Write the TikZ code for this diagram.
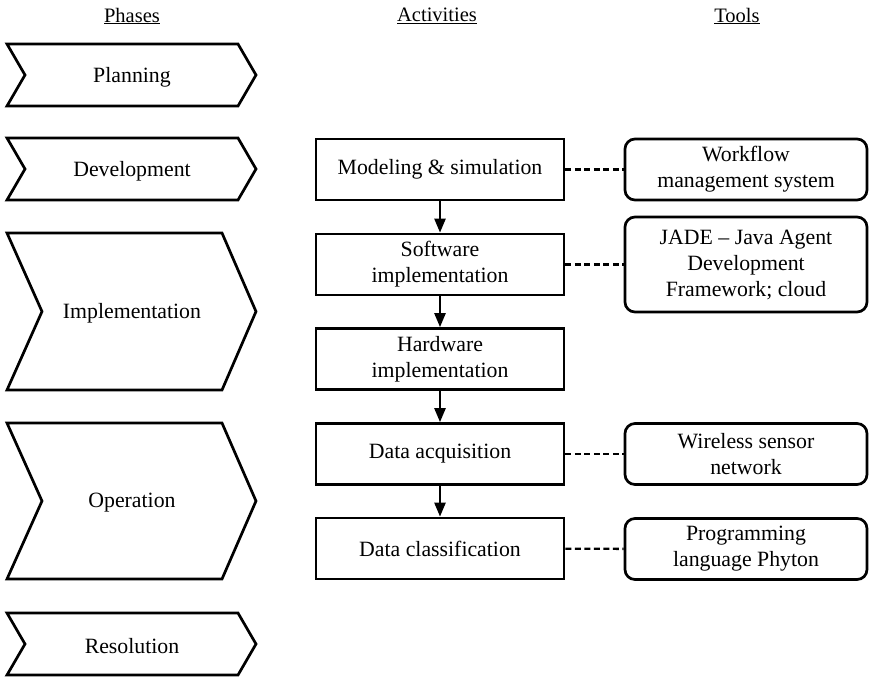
\documentclass[tikz,border=0pt]{standalone}
\usepackage{fontspec}
\setmainfont{Liberation Serif}
\usetikzlibrary{arrows.meta}
\begin{document}
\begin{tikzpicture}[x=1pt,y=-1pt,
  txt/.style={font=\fontsize{21.8}{26}\selectfont, text=black, align=center, inner sep=0pt},
  hdr/.style={font=\fontsize{20.5}{24}\selectfont, text=black, inner sep=0pt},
  chev/.style={draw=black, line width=2.7pt, line join=miter},
  actbox/.style={txt, draw=black, line width=2.7pt, minimum width=248pt, minimum height=61pt},
  toolbox/.style={txt, draw=black, line width=2.7pt, rounded corners=10pt, minimum width=242pt, minimum height=61pt},
  flow/.style={draw=black, line width=2.4pt, -{Triangle[length=14pt,width=11pt]}},
  link/.style={draw=black, line width=2.4pt, dash pattern=on 6pt off 3.5pt}
]
\useasboundingbox (0,0) rectangle (869,678);
\fill[white] (0,0) rectangle (869,678);

% headers
\node[hdr] (hp) at (132,16) {\underline{Phases}};
\node[hdr] (ha) at (437,16) {\underline{Activities}};
\node[hdr] (ht) at (737,16) {\underline{Tools}};

% phase chevrons
\draw[chev] (7,44) -- (238,44) -- (256,75) -- (238,106) -- (7,106) -- (25,75) -- cycle;
\node[txt] (planning) at (132,77) {Planning};
\draw[chev] (7,138) -- (238,138) -- (256,169) -- (238,200) -- (7,200) -- (25,169) -- cycle;
\node[txt] (development) at (132,171) {Development};
\draw[chev] (7,233) -- (222,233) -- (256,311.5) -- (222,390) -- (7,390) -- (42,311.5) -- cycle;
\node[txt] (implementation) at (132,313) {Implementation};
\draw[chev] (7,423) -- (222,423) -- (256,501) -- (222,579) -- (7,579) -- (42,501) -- cycle;
\node[txt] (operation) at (132,503) {Operation};
\draw[chev] (7,613) -- (238,613) -- (256,644) -- (238,675) -- (7,675) -- (25,644) -- cycle;
\node[txt] (resolution) at (132,646) {Resolution};

% activities
\node[actbox] (model) at (440,169.5) {Modeling \& simulation};
\node[actbox] (soft) at (440,264.5) {Software\\implementation};
\node[actbox] (hard) at (440,359) {Hardware\\implementation};
\node[actbox] (acq) at (440,454) {Data acquisition};
\node[actbox] (cls) at (440,548.5) {Data classification};

% tools
\node[toolbox] (wf) at (746,169.5) {Workflow\\management system};
\node[toolbox, minimum height=95pt] (jade) at (746,264.5) {JADE -- Java Agent\\Development\\Framework; cloud};
\node[toolbox] (wsn) at (746,454) {Wireless sensor\\network};
\node[toolbox] (prog) at (746,549) {Programming\\language Phyton};

% connectors
\draw[flow] (model) -- (soft);
\draw[flow] (soft) -- (hard);
\draw[flow] (hard) -- (acq);
\draw[flow] (acq) -- (cls);

\draw[link] (model) -- (wf);
\draw[link] (soft) -- (jade);
\draw[link] (acq) -- (wsn);
\draw[link] (cls) -- (prog);
\end{tikzpicture}
\end{document}
